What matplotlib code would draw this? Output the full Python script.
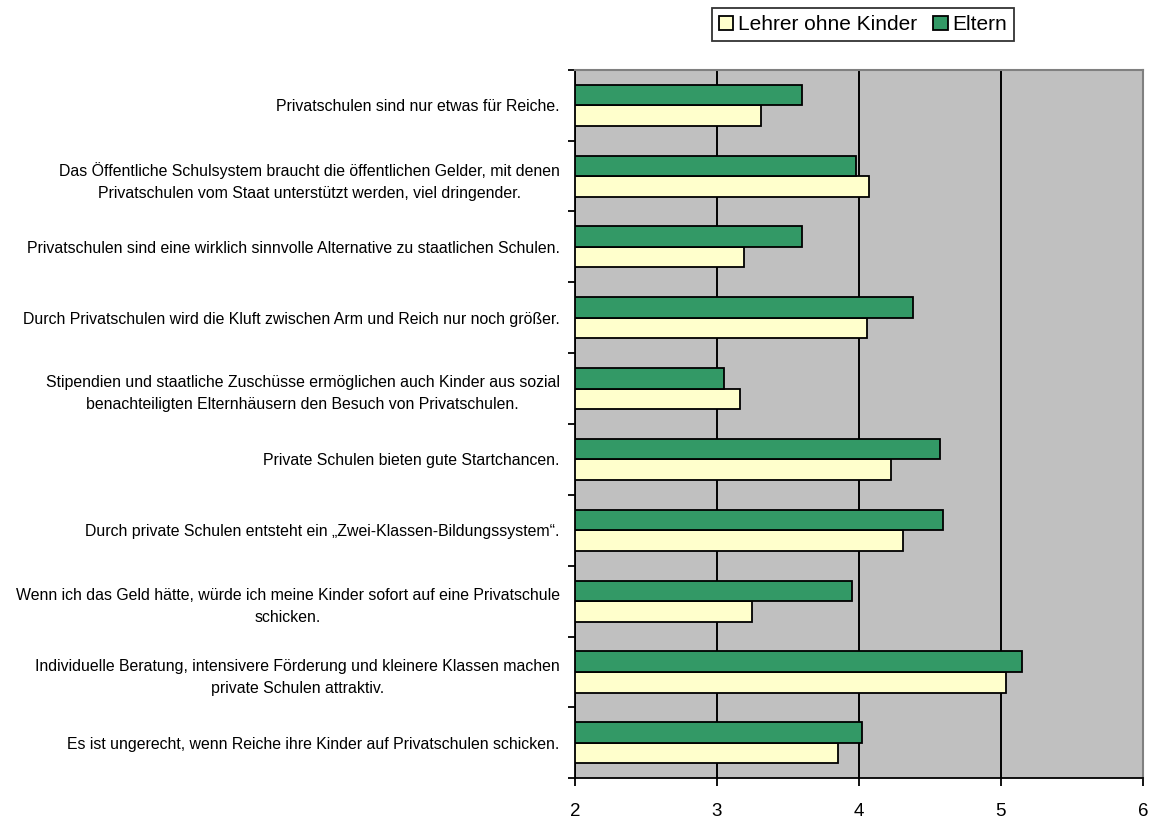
import numpy as np
import matplotlib.pyplot as plt

plt.rcParams['font.family'] = ['Liberation Sans', 'DejaVu Sans']

statements = [
    "Privatschulen sind nur etwas für Reiche.",
    "Das Öffentliche Schulsystem braucht die öffentlichen Gelder, mit denen\nPrivatschulen vom Staat unterstützt werden, viel dringender.",
    "Privatschulen sind eine wirklich sinnvolle Alternative zu staatlichen Schulen.",
    "Durch Privatschulen wird die Kluft zwischen Arm und Reich nur noch größer.",
    "Stipendien und staatliche Zuschüsse ermöglichen auch Kinder aus sozial\nbenachteiligten Elternhäusern den Besuch von Privatschulen.",
    "Private Schulen bieten gute Startchancen.",
    "Durch private Schulen entsteht ein „Zwei-Klassen-Bildungssystem“.",
    "Wenn ich das Geld hätte, würde ich meine Kinder sofort auf eine Privatschule\nschicken.",
    "Individuelle Beratung, intensivere Förderung und kleinere Klassen machen\nprivate Schulen attraktiv.",
    "Es ist ungerecht, wenn Reiche ihre Kinder auf Privatschulen schicken.",
]
eltern = [3.60, 3.98, 3.60, 4.38, 3.05, 4.57, 4.59, 3.95, 5.15, 4.02]
lehrer = [3.31, 4.07, 3.19, 4.06, 3.16, 4.23, 4.31, 3.25, 5.04, 3.85]
xticks = [2, 3, 4, 5, 6]

fig = plt.figure(figsize=(11.52, 8.21), dpi=100)
ax = fig.add_axes([0.499, 0.052, 0.493, 0.863])

y = np.arange(len(statements))
h = 0.29
ax.barh(y + h / 2, np.array(lehrer) - 2, left=2, height=h, color="#FFFFCC",
        edgecolor="black", lw=1.3, label="Lehrer ohne Kinder", zorder=3)
ax.barh(y - h / 2, np.array(eltern) - 2, left=2, height=h, color="#339966",
        edgecolor="black", lw=1.3, label="Eltern", zorder=3)

ax.set_facecolor("#C0C0C0")
ax.set_xlim(2, 6)
ax.set_ylim(len(statements) - 0.5, -0.5)
ax.set_xticks(xticks)
ax.set_xticklabels([str(t) for t in xticks], fontsize=13.5)
ax.xaxis.grid(True, color="black", lw=1.4, zorder=1)
ax.set_axisbelow(True)

# boundaries get the tick marks, centers get the labels
ax.set_yticks(np.arange(len(statements) + 1) - 0.5)
ax.set_yticklabels([])
ax.set_yticks(y, minor=True)
ax.set_yticklabels(statements, minor=True, fontsize=11.4,
                   multialignment="center", linespacing=1.6)
ax.tick_params(axis="y", which="minor", length=0, pad=11)
ax.tick_params(axis="y", which="major", length=5, width=1.3, direction="out")
ax.tick_params(axis="x", length=6, width=1.3, pad=12)

for s in ("left", "bottom"):
    ax.spines[s].set_color("black")
    ax.spines[s].set_linewidth(1.3)
for s in ("top", "right"):
    ax.spines[s].set_color("#808080")
    ax.spines[s].set_linewidth(1.5)

leg = fig.legend(loc="center", bbox_to_anchor=(0.749, 0.970), ncol=2,
                 fontsize=15, frameon=True, fancybox=False, edgecolor="black",
                 handlelength=0.7, handleheight=0.7, handletextpad=0.2,
                 columnspacing=0.8, borderpad=0.35)
leg.get_frame().set_linewidth(1.3)

fig.savefig("out.png", dpi=100)
